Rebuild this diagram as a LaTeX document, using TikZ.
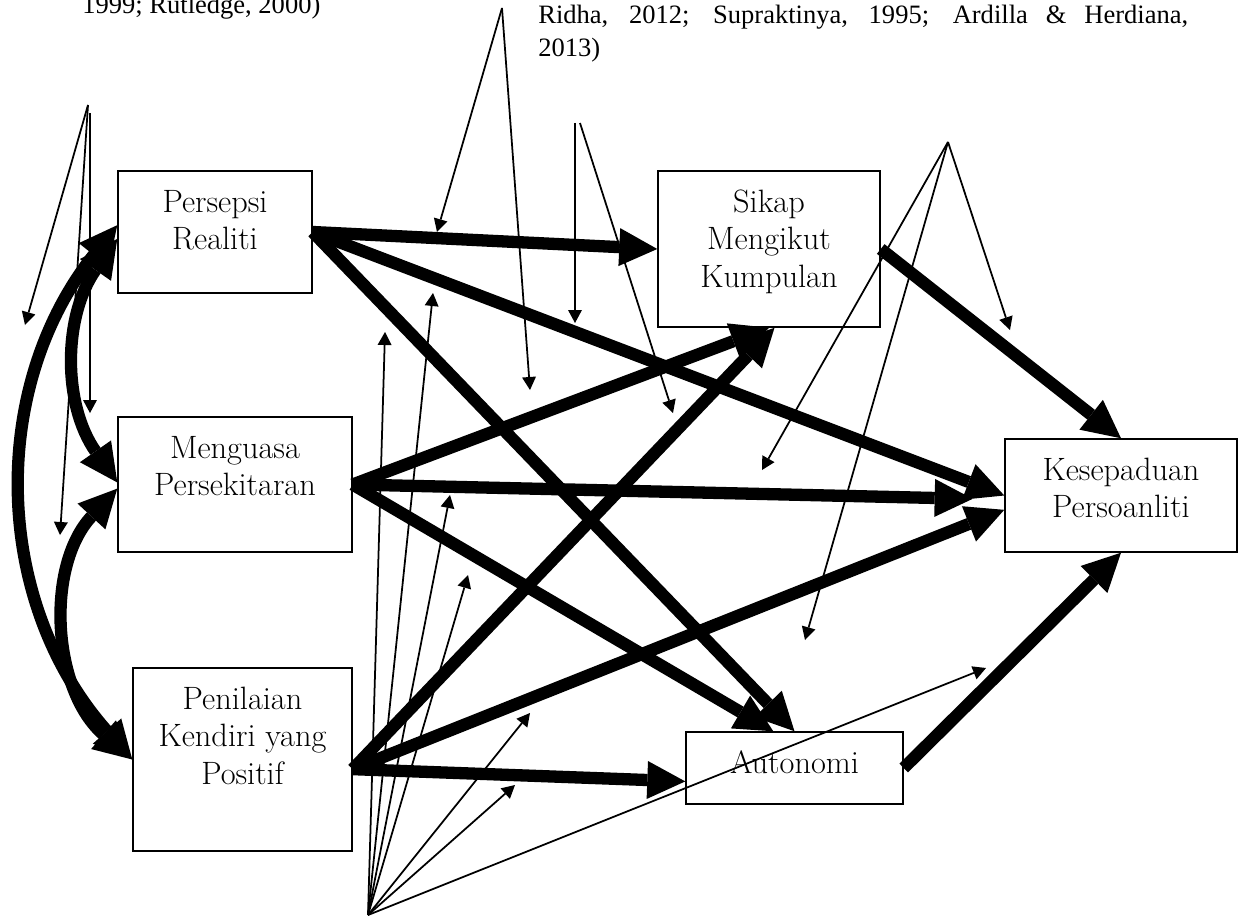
\documentclass[tikz,border=0pt]{standalone}
\usepackage{fontspec}
\newfontfamily\citefont{Liberation Serif}
\usetikzlibrary{arrows.meta}
\newcommand{\boxtext}[3]{\parbox[c][#2][t]{#1}{\centering\vspace*{8.7pt}\strut #3}}
\begin{document}
\begin{tikzpicture}[x=0.02cm,y=-0.02cm,
		box/.style={draw,line width=0.85pt,inner sep=0pt,font=\fontsize{18.4pt}{21.3pt}\selectfont},
		cite/.style={inner sep=0pt,font=\citefont\fontsize{15.1pt}{18.8pt}\selectfont},
		heavy/.style={line width=7pt,-{Triangle[length=0.76cm,width=0.76cm,line width=0pt]}},
		heavyboth/.style={line width=7pt,{Triangle[length=0.76cm,width=0.76cm,line width=0pt]}-{Triangle[length=0.76cm,width=0.76cm,line width=0pt]}},
		light/.style={line width=1pt,-{Triangle[length=0.26cm,width=0.28cm,line width=0pt]}}]
				\useasboundingbox (0,0) rectangle (1238,919);
				\node[cite,anchor=base west] (citea) at (82,14) {1999; Rutledge, 2000)};
				\node[cite,anchor=base west] (citeb) at (538,24) {\makebox[13cm][s]{Ridha, 2012; Supraktinya, 1995; Ardilla \& Herdiana,}};
				\node[cite,anchor=base west] (citec) at (538,57) {2013)};
				\node[box] (pr) at (215,232) {\boxtext{3.88cm}{2.44cm}{Persepsi\\Realiti}};
				\node[box] (mp) at (235,484.5) {\boxtext{4.68cm}{2.7cm}{Menguasa\\Persekitaran}};
				\node[box] (pk) at (242.5,759.5) {\boxtext{4.38cm}{3.66cm}{Penilaian\\Kendiri yang\\Positif}};
				\node[box] (sk) at (769,249) {\boxtext{4.44cm}{3.12cm}{Sikap\\Mengikut\\Kumpulan}};
				\node[box] (kp) at (1121,495.5) {\boxtext{4.64cm}{2.26cm}{Kesepaduan\\Persoanliti}};
				\node[box] (au) at (794.5,768) {\boxtext{4.34cm}{1.44cm}{Autonomi}};
				\draw[heavy] (pr.east) -- (sk.west);
				\draw[heavy] (pr.east) -- (kp.west);
				\draw[heavy] (pr.east) -- (au.north);
				\draw[heavy] (mp.east) -- (sk.south);
				\draw[heavy,shorten >=18] (mp.east) -- (kp.182);
				\draw[heavy] (mp.east) -- (au.120);
				\draw[heavy] (pk.-5) -- (sk.-86);
				\draw[heavy] (pk.-5) -- (kp.187);
				\draw[heavy] (pk.-5) -- (au.187);
				\draw[heavy] (sk.east) -- (kp.north);
				\draw[heavy] (au.east) -- (kp.south);
				\draw[heavyboth] (pr.176) to[bend right=40] (pk.west);
				\draw[heavyboth] (pr.184) to[bend right=35] (mp.179);
				\draw[heavyboth] (mp.182) to[bend right=46] (pk.west);
				\coordinate (srca) at (88,105);
				\coordinate (srcav) at (90,113);
				\coordinate (srcb) at (502,8);
				\coordinate (srcc) at (575,123);
				\coordinate (srccr) at (580,123);
				\coordinate (srcd) at (948,142);
				\coordinate (srce) at (368,915);
				\coordinate (a1) at (25,325);
				\coordinate (a2) at (90,413);
				\coordinate (a3) at (60,535);
				\coordinate (b1) at (437,232);
				\coordinate (b2) at (530,390);
				\coordinate (c1) at (575,323);
				\coordinate (c2) at (673,413);
				\coordinate (d1) at (1010,330);
				\coordinate (d2) at (762,470);
				\coordinate (d3) at (805,640);
				\coordinate (e1) at (385,332);
				\coordinate (e2) at (433,293);
				\coordinate (e3) at (450,495);
				\coordinate (e4) at (468,575);
				\coordinate (e5) at (530,713);
				\coordinate (e6) at (515,785);
				\coordinate (e7) at (986,668);
				\draw[light] (srca) -- (a1);
				\draw[light] (srcav) -- (a2);
				\draw[light] (srca) -- (a3);
				\draw[light] (srcb) -- (b1);
				\draw[light] (srcb) -- (b2);
				\draw[light] (srcc) -- (c1);
				\draw[light] (srccr) -- (c2);
				\foreach \t in {d1,d2,d3}
					\draw[light] (srcd) -- (\t);
				\foreach \t in {e1,e2,e3,e4,e5,e6,e7}
					\draw[light] (srce) -- (\t);
\end{tikzpicture}
\end{document}
